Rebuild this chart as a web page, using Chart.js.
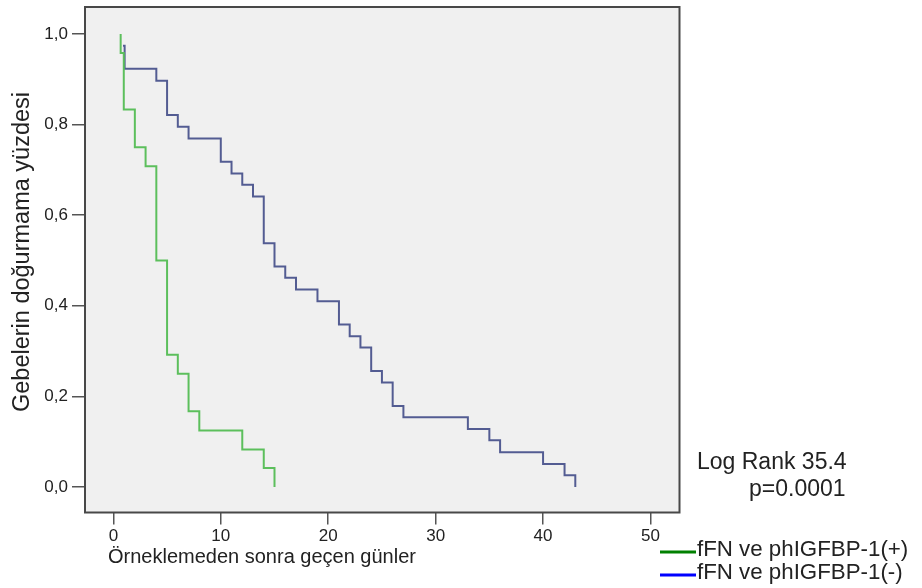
<!DOCTYPE html>
<html>
<head>
<meta charset="utf-8">
<script src="https://cdn.jsdelivr.net/npm/chart.js@4.4.1/dist/chart.umd.min.js"></script>
<style>
  html, body { margin:0; padding:0; background:#fff; }
  #wrap { width:922px; height:588px; position:relative; }
</style>
</head>
<body>
<div id="wrap"><canvas id="km"></canvas></div>
<script>
/* ===== DATA (Kaplan-Meier steps) ===== */
const GREEN_DAYS = [0.68, 0.68, 0.97, 2, 3, 4, 5, 6, 7, 8, 12, 14, 15];
const GREEN_SURV = [1.0, 0.958, 0.833, 0.75, 0.708, 0.5, 0.292, 0.25, 0.167, 0.125, 0.083, 0.042, 0.0];

const BLUE_DAYS = [0.9, 1.05, 4, 5, 6, 7, 10, 11, 12, 13, 14, 15, 16, 17, 19, 21, 22, 23, 24, 25, 26, 27, 33, 35, 36, 40, 42, 43];
const BLUE_SURV = [0.974, 0.923, 0.897, 0.821, 0.795, 0.769, 0.718, 0.692, 0.667, 0.641, 0.538, 0.487, 0.462, 0.436,
                   0.410, 0.359, 0.333, 0.308, 0.256, 0.231, 0.179, 0.154, 0.128, 0.103, 0.077, 0.051, 0.026, 0.0];

const X_TICKS = [0, 10, 20, 30, 40, 50];
const Y_TICKS = [0, 0.2, 0.4, 0.6, 0.8, 1.0];
const Y_TICK_LABELS = ['0,0', '0,2', '0,4', '0,6', '0,8', '1,0'];

const SERIES_LABELS = ['fFN ve phIGFBP-1(+)', 'fFN ve phIGFBP-1(-)'];
const X_TITLE = 'Örneklemeden sonra geçen günler';
const Y_TITLE = 'Gebelerin doğurmama yüzdesi';
const STAT_LINES = ['Log Rank 35.4', 'p=0.0001'];

const FONT = "'Liberation Sans', Arial, sans-serif";
const toXY = (xs, ys) => xs.map((x, i) => ({ x, y: ys[i] }));

/* ===== frame, background, free texts ===== */
const frameAndText = {
  id: 'frameAndText',
  beforeDraw(chart) {
    const { ctx, chartArea: a } = chart;
    ctx.save();
    ctx.fillStyle = '#f0f0f0';
    ctx.fillRect(a.left, a.top, a.right - a.left, a.bottom - a.top);
    ctx.restore();
  },
  afterDraw(chart) {
    const { ctx, chartArea: a } = chart;
    ctx.save();
    ctx.strokeStyle = '#484848';
    ctx.lineWidth = 2;
    ctx.strokeRect(a.left, a.top, a.right - a.left, a.bottom - a.top);

    ctx.fillStyle = '#222';
    ctx.textBaseline = 'middle';
    ctx.textAlign = 'left';
    ctx.font = '20px ' + FONT;
    ctx.fillText(X_TITLE, 108, 557);

    // y title, rotated
    ctx.save();
    ctx.translate(23, 252);
    ctx.rotate(-Math.PI / 2);
    ctx.textAlign = 'center';
    ctx.font = '23.5px ' + FONT;
    ctx.fillText(Y_TITLE, 0, 0);
    ctx.restore();

    ctx.font = '23px ' + FONT;
    ctx.fillText(STAT_LINES[0], 697, 463);
    ctx.fillText(STAT_LINES[1], 749, 490);

    const legendCols = ['#008000', '#0000ff'];
    const legendY = [551, 574];
    ctx.font = '22.3px ' + FONT;
    legendCols.forEach((c, i) => {
      ctx.strokeStyle = c;
      ctx.lineWidth = 3;
      ctx.beginPath();
      ctx.moveTo(660, legendY[i] + 1);
      ctx.lineTo(696, legendY[i] + 1);
      ctx.stroke();
      ctx.fillStyle = '#222';
      ctx.fillText(SERIES_LABELS[i], 697, legendY[i] - 1);
    });
    ctx.restore();
  }
};

new Chart(document.getElementById('km'), {
  type: 'line',
  data: {
    datasets: [
      { label: SERIES_LABELS[0], data: toXY(GREEN_DAYS, GREEN_SURV),
        borderColor: '#5cbf5c', borderWidth: 2, stepped: 'before', pointRadius: 0, fill: false },
      { label: SERIES_LABELS[1], data: toXY(BLUE_DAYS, BLUE_SURV),
        borderColor: '#535c92', borderWidth: 2, stepped: 'before', pointRadius: 0, fill: false },
    ]
  },
  options: {
    responsive: true, maintainAspectRatio: false, animation: false,
    layout: { padding: { left: 0, top: 7, right: 242.5, bottom: 0 } },
    plugins: { legend: { display: false }, tooltip: { enabled: false } },
    scales: {
      x: {
        type: 'linear', min: -2.64, max: 52.7,
        afterBuildTicks: s => { s.ticks = X_TICKS.map(v => ({ value: v })); },
        afterFit: s => { s.height = 75.5; s.paddingLeft = 0; s.paddingRight = 0; },
        border: { display: false },
        grid: { drawOnChartArea: false, drawTicks: true, tickLength: 12, color: '#555', lineWidth: 1.5 },
        ticks: { padding: 2, color: '#222', font: { family: FONT, size: 17 }, maxRotation: 0 }
      },
      y: {
        type: 'linear', min: -0.0562, max: 1.0595,
        afterBuildTicks: s => { s.ticks = Y_TICKS.map(v => ({ value: v })); },
        afterFit: s => { s.width = 85; s.paddingTop = 0; s.paddingBottom = 0; },
        border: { display: false },
        grid: { drawOnChartArea: false, drawTicks: true, tickLength: 13, color: '#555', lineWidth: 1.5 },
        ticks: { padding: 4, color: '#222', font: { family: FONT, size: 17 },
          callback: (v, i) => Y_TICK_LABELS[i] }
      }
    }
  },
  plugins: [frameAndText]
});
</script>
</body>
</html>
